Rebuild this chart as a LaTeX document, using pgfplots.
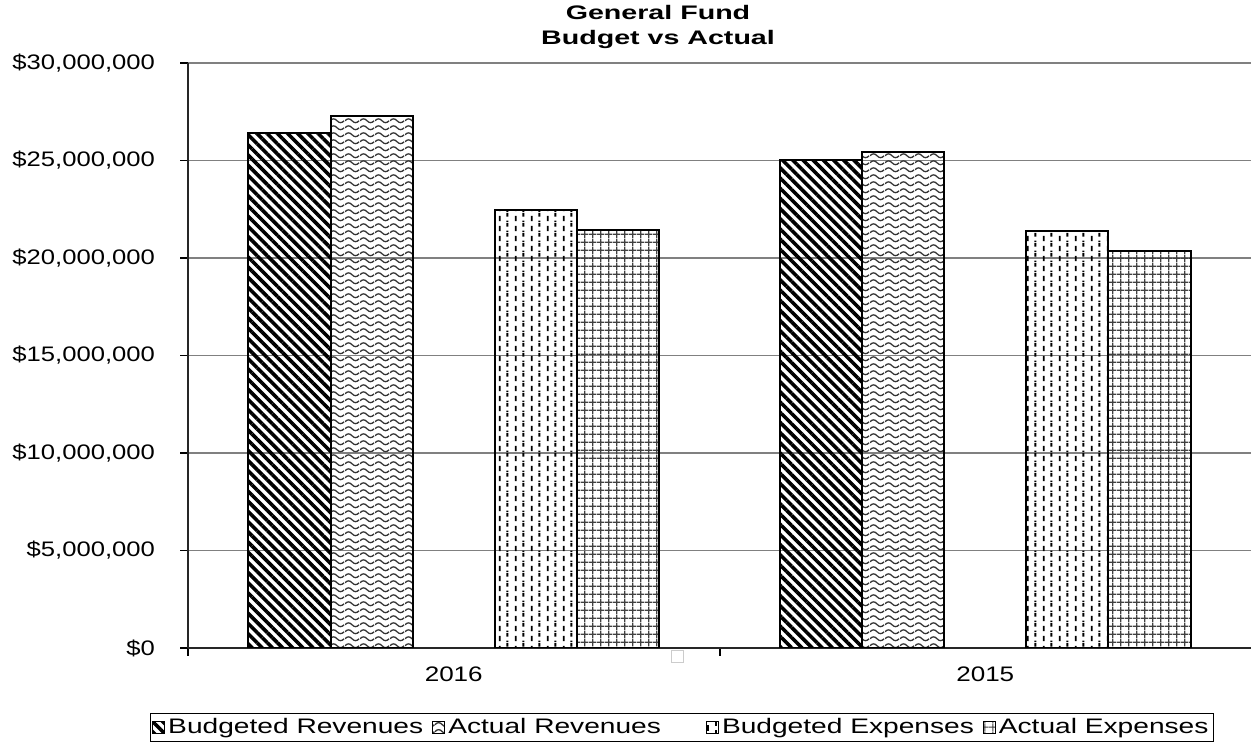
\documentclass[border=0pt]{standalone}
\usepackage{pgfplots}
\pgfplotsset{compat=1.18}
\usepackage{fontspec}
\setmainfont{Liberation Sans}
\newfontfamily\tickfont[FakeStretch=1.22]{Liberation Sans}
\newfontfamily\xfont[FakeStretch=1.24]{Liberation Sans}
\newfontfamily\legfont[FakeStretch=1.34]{Liberation Sans}
\newfontfamily\titlefont[FakeStretch=1.46]{Liberation Sans}
\usetikzlibrary{patterns,patterns.meta}

\pgfdeclarepatternformonly{waves}{\pgfqpoint{0pt}{0pt}}{\pgfqpoint{7.5pt}{3.6pt}}{\pgfqpoint{7.5pt}{3.6pt}}{%
  \pgfsetlinewidth{0.7pt}%
  \pgfpathmoveto{\pgfqpoint{0pt}{1.8pt}}%
  \pgfpathcurveto{\pgfqpoint{1.25pt}{3.2pt}}{\pgfqpoint{2.5pt}{3.2pt}}{\pgfqpoint{3.75pt}{1.8pt}}%
  \pgfpathcurveto{\pgfqpoint{5pt}{0.4pt}}{\pgfqpoint{6.25pt}{0.4pt}}{\pgfqpoint{7.5pt}{1.8pt}}%
  \pgfusepath{stroke}}

\pgfdeclarepatternformonly{vdashes}{\pgfqpoint{0pt}{0pt}}{\pgfqpoint{8pt}{5pt}}{\pgfqpoint{8pt}{5pt}}{%
  \pgfsetlinewidth{1pt}%
  \pgfpathmoveto{\pgfqpoint{2pt}{0.5pt}}\pgfpathlineto{\pgfqpoint{2pt}{3.3pt}}%
  \pgfpathmoveto{\pgfqpoint{6pt}{3pt}}\pgfpathlineto{\pgfqpoint{6pt}{5pt}}%
  \pgfpathmoveto{\pgfqpoint{6pt}{0pt}}\pgfpathlineto{\pgfqpoint{6pt}{0.8pt}}%
  \pgfusepath{stroke}}

\begin{document}
\begin{tikzpicture}
\path[use as bounding box] (0,0) rectangle (625.5pt,371pt);
\begin{axis}[
  at={(94pt,47pt)}, anchor=south west,
  scale only axis, width=531.5pt, height=292.5pt,
  xmin=-0.5, xmax=1.5, ymin=0, ymax=30000000,
  scaled y ticks=false,
  axis lines*=left,
  axis line style={black!85, line width=1pt},
  tick align=outside, major tick length=4pt,
  ytick={0,5000000,10000000,15000000,20000000,25000000,30000000},
  yticklabels={{\$0},{\$5,000,000},{\$10,000,000},{\$15,000,000},{\$20,000,000},{\$25,000,000},{\$30,000,000}},
  yticklabel style={font=\fontsize{10.5}{12}\tickfont, text=black, xshift=-9pt},
  ytick style={black, line width=0.8pt},
  ymajorgrids, grid style={gray, line width=0.8pt},
  xtick={-0.5,0.5}, xticklabels={},
  xtick style={black, line width=1pt},
  extra x ticks={0,1}, extra x tick labels={2016,2015},
  extra x tick style={major tick length=0pt, grid=none,
    xticklabel style={font=\fontsize{10.5}{12}\xfont, text=black, yshift=-6pt}},
  legend columns=5,
  legend style={at={(axis description cs:0.9652,-0.1111)}, anchor=north east,
    draw=black, line width=0.5pt, font=\fontsize{10.5}{12}\legfont,
    inner sep=1pt, nodes={inner sep=1.5pt},
    /tikz/every even column/.append style={column sep=3pt}},
  legend image code/.code={\draw[#1, line width=0.5pt] (0pt,-3pt) rectangle (6pt,3pt);},
]
\addplot[ybar, bar width=0.1545, bar shift=-0.309, draw=black, line width=1pt,
  pattern={Lines[angle=-45,distance=3.6pt,line width=1.8pt]}]
  coordinates {(0,26400000) (1,25000000)};
\addlegendentry{Budgeted Revenues}
\addplot[ybar, bar width=0.1545, bar shift=-0.1545, draw=black, line width=1pt,
  pattern=waves, pattern color=black!80]
  coordinates {(0,27300000) (1,25450000)};
\addlegendentry{Actual Revenues}
\addlegendimage{empty legend}
\addlegendentry{\rule{12pt}{0pt}}
\addplot[ybar, bar width=0.1545, bar shift=0.1545, draw=black, line width=1pt,
  pattern=vdashes]
  coordinates {(0,22450000) (1,21400000)};
\addlegendentry{Budgeted Expenses}
\addplot[ybar, bar width=0.1545, bar shift=0.309, draw=black, line width=1pt,
  pattern={Hatch[distance=3.85pt,line width=0.6pt]}, pattern color=black!75]
  coordinates {(0,21450000) (1,20350000)};
\addlegendentry{Actual Expenses}
\end{axis}
\node[font=\fontsize{9.8}{12}\titlefont\bfseries, anchor=base] at (329pt,361pt) {General Fund};
\node[font=\fontsize{9.8}{12}\titlefont\bfseries, anchor=base] at (329pt,348.5pt) {Budget vs Actual};
\draw[gray!40, line width=0.5pt] (335.5pt,39.5pt) rectangle (341.5pt,45.5pt);
\end{tikzpicture}
\end{document}
